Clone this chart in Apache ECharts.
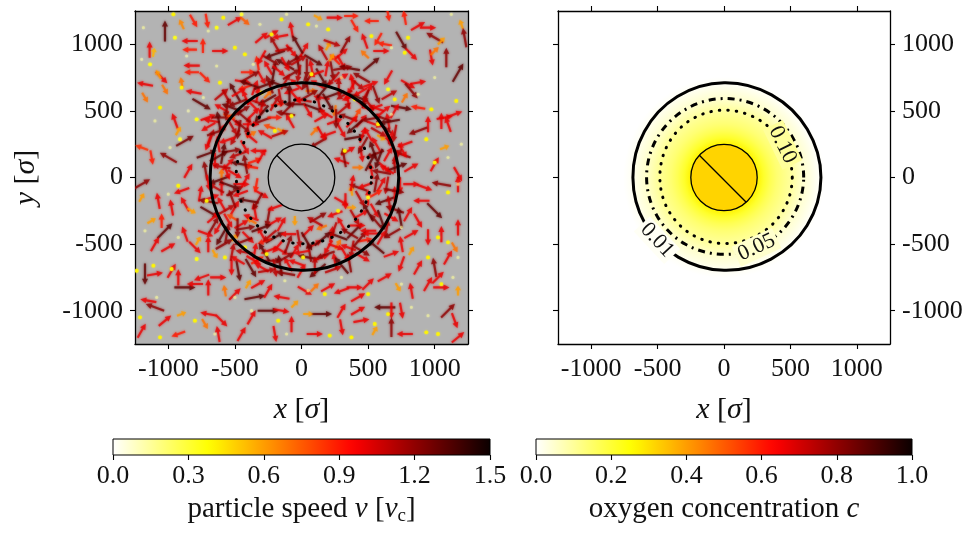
<!DOCTYPE html>
<html>
<head>
<meta charset="utf-8">
<script src="https://cdn.jsdelivr.net/npm/echarts@6/dist/echarts.min.js"></script>
<style>
  html, body { margin: 0; padding: 0; background: #fff; }
  #chart { width: 971px; height: 536px; }
</style>
</head>
<body>
<div id="chart"></div>
<script>
// ---------- axes ----------
const posTicks = [-1000, -500, 0, 500, 1000];
const posRange = [-1250, 1250];
const speedRange = [0, 1.5];
const speedStep = 0.3;
const concRange = [0, 1];
const concStep = 0.2;

// ---------- particles: [x, y, heading (deg), speed] ----------
const particlesNW = [
  [-1025,1100,90,1.3],[-1140,960,90,1.0],[-1110,940,80,0.55],[-900,1150,115,0.65],[-810,1175,-60,0.9],
  [-710,1175,-80,0.9],[-840,1025,180,1.0],[-740,990,90,0.9],[-610,950,0,1.0],[-840,960,180,0.9],
  [-500,1175,30,1.0],[-425,1175,-40,0.75],[-300,1050,40,1.0],[-225,1075,30,1.0],[-75,1110,100,1.0],
  [-200,1000,120,1.15],[-1175,700,170,1.0],[-1175,600,-60,0.7],[-1050,750,-45,1.0],[-1025,660,-60,0.7],
  [-1075,775,120,0.6],[-825,840,180,1.0],[-825,790,180,0.9],[-900,710,100,0.7],[-725,750,-45,0.9],
  [-600,625,40,1.1],[-750,550,-30,1.3],[-810,640,170,1.0],[-400,790,0,0.9],[-950,425,110,1.0],
  [-925,350,60,0.6],[-1200,225,160,0.85],[-1125,150,-80,0.9],[-1000,150,150,1.2],[-875,275,30,1.25],
  [-850,50,60,1.0],[-700,450,20,1.0],[-600,450,0,1.2],[-525,525,160,1.3],
  [-200,925,200,1.3],[-125,850,150,1.3],[-75,775,30,1.2],[-250,825,120,1.0],[-300,750,-60,1.0],
  [-175,700,160,1.3],[-75,650,200,1.0],[-250,625,45,0.7],[-375,550,135,1.0],[-450,500,30,1.2],
  [-300,525,-100,1.0],[-175,550,10,0.9],[-50,550,180,1.3],[-500,425,-45,1.0],[-400,400,80,1.0],
  [-300,425,200,1.2],[-200,450,0,0.9],[-600,350,60,1.0],[-500,300,-120,1.1],[-375,325,30,0.7],
  [-275,325,150,1.0],[-150,350,-30,0.6],[-625,250,100,1.0],[-525,200,10,1.2],[-425,225,-60,1.0],
  [-325,200,180,1.0],[-650,125,-90,1.0],[-550,100,45,1.0],[-450,100,170,1.3],[-350,125,20,0.9],
  [-600,25,90,0.7],[-500,25,-30,1.0],[-712,175,20,1.3],[-675,425,170,1.0],[-350,675,70,1.0],
  [-425,675,200,0.9],[-75,950,-50,1.0],[-25,850,100,1.3],[-87,425,120,1.0],
  [-120,720,60,1.1],[-230,880,-30,1.2],[-330,860,100,0.9],[-40,700,140,1.0],[-160,600,-80,1.1],
  [-280,690,20,1.3],[-420,600,110,1.0],[-540,460,-20,0.8],[-600,520,150,1.0],[-680,300,70,1.1],
  [-560,280,200,1.0],[-470,360,-100,1.2],[-360,480,45,1.0],[-240,380,160,0.8]
];
const particlesNE = [
  [125,1200,-30,0.6],[250,1200,0,1.0],[375,1212,0,0.9],[400,1137,-60,0.9],[525,1175,180,0.9],
  [650,1225,-80,0.9],[775,1200,100,0.9],[875,1137,30,1.0],[950,1125,0,1.0],[1000,1050,150,1.2],
  [1050,1025,45,0.6],[1200,1150,110,0.6],[1225,1050,100,1.2],[475,1025,110,1.0],[575,1037,-120,0.9],
  [625,1000,170,0.9],[750,1025,-60,1.3],[825,925,-45,1.0],[975,900,-80,1.0],[1000,950,45,0.7],
  [1087,900,90,1.2],[1175,787,60,1.3],[525,850,40,1.3],[600,950,0,1.0],[475,925,135,0.7],
  [300,862,-60,1.0],[250,887,135,0.9],[200,987,60,0.6],[650,750,-120,1.0],[800,700,-30,1.0],
  [875,712,10,1.0],[775,600,60,0.7],[825,650,-50,1.2],[750,525,-10,1.3],[875,525,170,0.9],
  [1075,450,10,1.0],[1150,475,20,1.0],[1100,400,110,1.0],[1050,425,90,1.0],[950,400,90,1.0],
  [875,350,200,1.2],[1075,225,20,0.6],[1000,100,60,1.0],[1175,25,-60,1.0],[775,250,200,1.0],
  [750,175,160,1.2],[825,75,30,1.0],[700,500,60,1.0],
  [75,825,100,1.0],[150,750,-60,1.3],[225,900,60,0.6],[300,750,30,1.0],[375,675,-120,1.0],
  [450,750,150,1.2],[500,650,60,1.0],[75,650,0,0.7],[150,600,170,1.0],[250,625,20,1.3],
  [350,575,100,1.0],[450,550,-40,1.0],[550,525,200,1.0],[50,500,-60,1.0],[150,450,30,1.0],
  [250,500,-100,0.7],[350,450,160,1.2],[450,425,50,1.0],[550,400,-20,1.0],[650,425,100,1.0],
  [100,350,45,0.7],[200,325,200,1.0],[300,350,-60,1.0],[400,300,10,1.3],[500,325,120,1.0],
  [600,300,-30,0.6],[675,300,80,1.0],[350,200,30,1.0],[450,175,-80,1.0],[550,175,200,1.2],
  [650,175,60,1.0],[300,125,160,1.0],[425,75,0,0.7],[525,50,100,1.0],[625,75,-40,1.0],
  [125,260,210,1.2],[40,720,-120,1.2],[190,820,80,1.0],[320,620,-150,1.1],[420,480,60,0.8],
  [600,450,160,1.2],[640,320,-70,1.0],[250,420,20,1.0],[130,560,100,1.1],[560,250,120,1.0],
  [700,100,90,1.1]
];
const particlesSW = [
  [-1200,-150,60,0.6],[-1075,-175,100,1.0],[-1125,-325,30,0.6],[-1050,-325,90,0.9],[-975,-225,100,1.0],
  [-875,-200,120,1.0],[-900,-100,200,1.0],[-825,-250,-30,0.6],[-1200,-50,30,1.2],[-1025,-400,45,1.3],
  [-1100,-500,60,1.0],[-1000,-525,30,1.0],[-875,-425,110,1.0],[-800,-525,-45,1.0],[-775,-475,60,0.6],
  [-700,-500,90,1.0],[-650,-575,-60,0.6],[-1175,-725,-90,1.3],[-1100,-725,10,1.0],[-975,-700,60,1.0],
  [-925,-750,90,1.0],[-875,-825,0,1.3],[-800,-800,180,1.0],[-750,-750,200,1.0],[-700,-825,90,1.0],
  [-625,-750,0,1.0],[-575,-850,100,0.7],[-525,-675,-90,1.0],[-475,-700,-80,1.3],[-400,-800,60,0.6],
  [-500,-875,45,1.0],[-350,-900,10,1.3],[-250,-850,60,1.0],[-250,-1000,0,1.3],[-150,-1000,-10,1.0],
  [-150,-900,170,1.0],[-75,-1100,90,1.0],[-50,-950,45,0.6],[-375,-1050,60,1.0],[-450,-1175,60,1.0],
  [-600,-1075,-45,1.0],[-700,-1025,170,1.0],[-725,-1100,-60,0.7],[-900,-1025,20,0.6],[-1025,-1075,40,1.0],
  [-1100,-975,160,1.2],[-1200,-1150,60,1.0],[-1150,-925,170,1.0],[-925,-1175,200,0.9],[-625,-1175,100,1.0],
  [-325,-800,30,1.0],[-200,-1175,-80,1.0],
  [-600,-75,90,1.0],[-500,-100,30,1.2],[-450,-50,0,1.0],[-600,-200,120,1.0],[-500,-225,60,1.0],
  [-400,-175,170,1.3],[-300,-125,-30,1.0],[-350,-250,100,1.0],[-550,-325,-60,1.0],[-450,-350,30,1.0],
  [-375,-325,150,0.7],[-250,-300,-100,1.2],[-200,-225,200,1.0],[-150,-350,60,1.0],[-500,-450,45,0.6],
  [-400,-450,-45,1.0],[-300,-425,120,1.0],[-200,-450,30,1.3],[-100,-425,180,1.0],[-350,-550,80,1.0],
  [-250,-550,200,1.0],[-150,-550,-30,1.0],[-50,-550,60,1.0],[-225,-625,0,1.2],[-100,-650,120,1.0],
  [-300,-675,150,1.0],[-50,-325,-90,0.6],[-675,-150,20,1.0],[-625,-375,-120,1.0],
  [-560,-420,80,1.2],[-430,-560,170,1.1],[-620,-20,200,1.3],[-330,-620,30,0.9],[-160,-660,100,1.3],
  [-520,-300,150,0.8]
];
const particlesSE = [
  [425,-75,160,1.2],[500,-150,90,1.0],[600,-50,60,1.0],[550,-250,-60,1.0],[450,-275,30,1.0],
  [375,-225,0,0.6],[625,-175,200,1.3],[675,-300,-30,1.0],[300,-350,120,1.0],[400,-400,45,1.3],
  [500,-400,180,1.0],[600,-450,60,1.0],[100,-500,30,1.0],[200,-525,-120,1.0],[275,-500,60,0.7],
  [350,-525,160,1.0],[450,-550,-30,1.2],[50,-600,170,1.3],[150,-600,20,1.0],[250,-625,100,1.0],
  [50,-400,45,1.0],[150,-375,200,0.7],[225,-425,80,1.0],[250,-275,200,1.0],[125,-300,30,1.2],
  [700,-125,90,1.0],[375,-100,100,0.6],[560,-330,130,1.2],[330,-180,-90,1.0],[480,-470,10,0.9],
  [640,-60,-100,1.1],[270,-440,160,1.3],
  [825,-50,0,1.0],[925,-75,-20,1.0],[1050,-50,170,1.2],[1175,-50,90,1.0],[900,-175,180,1.0],
  [1000,-250,-45,1.3],[800,-275,60,1.0],[875,-325,-60,1.0],[825,-425,30,1.0],[750,-500,100,1.0],
  [825,-550,60,0.6],[950,-450,-90,1.0],[1050,-425,90,1.0],[1175,-375,90,1.0],[1150,-525,-60,0.7],
  [1100,-600,60,1.0],[1000,-675,100,1.2],[875,-675,60,1.0],[750,-650,-110,1.0],[675,-575,20,1.0],
  [625,-750,30,1.0],[500,-800,45,1.0],[400,-825,0,1.0],[300,-850,200,1.0],[200,-825,30,1.0],
  [100,-825,45,0.7],[25,-850,-30,1.0],[725,-825,-60,0.6],[825,-850,100,1.0],[950,-800,60,1.0],
  [1050,-825,0,1.0],[1175,-850,90,0.6],[150,-1025,0,1.3],[50,-1025,0,0.6],[300,-1000,60,1.0],
  [425,-1000,30,1.0],[625,-975,180,1.3],[675,-1000,-90,1.0],[750,-1000,-80,1.0],[450,-1075,10,1.0],
  [300,-1125,-80,1.0],[100,-1175,0,1.0],[550,-1150,60,0.6],[675,-1125,90,1.2],[775,-1175,180,1.0],
  [1100,-1000,45,1.2],[1150,-1075,-70,1.0],[1175,-1200,40,1.0],[1025,-750,45,1.0],[425,-900,30,1.0]
];
// crowded band around the colloid
const particlesRing = [
  [-380,760,30,1.2],[-300,900,-120,1.0],[-210,780,80,1.3],[-130,960,10,1.1],[-60,880,-150,1.2],
  [20,960,60,1.0],[90,880,-30,1.3],[160,940,120,1.1],[230,800,-80,1.2],[300,930,40,1.0],
  [360,820,170,1.3],[420,700,-40,1.1],[-440,720,-10,1.0],[-500,640,120,1.3],[-20,780,-100,1.1],
  [60,620,30,1.2],[120,700,150,1.0],[200,560,-60,1.3],[280,680,90,1.1],[360,600,200,1.0],
  [-100,520,45,1.2],[-260,580,-150,1.3],[-330,620,80,1.0],[10,580,170,1.1],[480,590,-110,1.2],
  [520,700,20,1.0],[-560,600,-60,1.1],[-620,420,100,1.3],[-480,560,200,1.2],[-120,850,-60,1.0],
  [-30,1000,120,1.3],[230,1010,-20,1.1],[330,1000,60,1.2],[-160,1060,190,1.0],
  [-720,50,100,1.2],[-760,-120,80,1.0],[-690,-260,-30,1.3],[-640,-80,150,1.1],[-560,40,-70,1.0],
  [-520,-160,110,1.2],[-700,260,-110,1.0],[-620,160,30,1.3],[-480,170,200,1.1],[-420,-20,60,1.0],
  [-440,380,-40,1.2],[-380,300,140,1.0],[-340,-60,-100,0.9],[-660,-360,60,1.2],[-720,-420,-20,1.0],
  [-580,-500,30,1.2],[-480,-620,150,1.0],[-380,-680,-60,1.3],[-260,-700,10,1.1],[-120,-720,170,1.2],
  [0,-700,60,1.0],[120,-700,-140,1.3],[240,-690,20,1.1],[360,-640,100,1.2],[460,-600,-30,1.0],
  [560,-520,140,1.3],[-20,-460,-80,1.1],[-280,-480,200,0.9],[60,-560,100,1.2],[330,-580,-60,1.0],
  [-420,-380,10,1.2],[-180,-520,-130,1.0],
  [640,-380,80,1.1],[700,-240,160,1.2],[740,-60,-90,1.0],[720,80,20,1.3],[680,240,120,1.1],
  [620,380,-40,1.2],[560,520,160,1.0],[520,120,60,1.3],[480,-60,200,1.0],[400,-300,-60,1.1],
  [560,-120,30,0.9],[460,240,-120,1.2],[380,420,45,1.0],[600,40,170,1.2],[760,200,-60,1.0],
  [740,-300,100,1.3],[660,620,30,1.1],[440,640,-150,1.0],
  [-300,160,60,1.0],[-330,-180,-120,1.2],[-200,-330,30,1.0],[100,-330,150,1.1],[300,-180,-30,1.0],
  [320,150,100,1.2],[150,330,-60,1.0],[-160,330,20,1.1],[-380,80,170,0.9],[380,-40,80,1.0]
];
const particlesRingInner = [
  [-560,520,-100,1.2],[-470,640,30,1.0],[-390,700,160,1.3],[-320,560,-20,1.1],[-240,700,110,1.2],
  [-170,800,-40,1.0],[-90,620,90,1.3],[-20,880,30,1.1],[40,820,-90,1.2],[110,780,200,1.0],
  [170,660,50,1.3],[240,740,-130,1.1],[310,820,10,1.2],[380,720,100,1.0],[430,600,-20,1.3],
  [500,560,130,1.1],[560,620,-70,1.2],[620,500,40,1.0],[660,420,190,1.3],[700,330,-100,1.1],
  [-640,340,20,1.2],[-700,380,-150,1.0],[-590,180,80,1.3],[-520,380,-60,1.1],[-440,460,140,1.2],
  [-380,400,0,1.0],[-300,480,-130,1.3],[-200,560,60,1.1],[-120,480,170,1.2],[-40,600,-50,1.0],
  [40,700,100,1.2],[100,520,-20,1.3],[180,480,150,1.0],[260,440,-90,1.2],[320,520,40,1.1],
  [400,380,-140,1.3],[460,320,70,1.0],[520,440,190,1.2],[580,340,-30,1.1],[540,200,110,1.3],
  [-700,-180,170,1.2],[-660,-300,40,1.0],[-600,-440,-120,1.3],[-520,-560,80,1.1],[-440,-480,200,1.2],
  [-360,-620,-30,1.0],[-280,-560,120,1.3],[-200,-680,-80,1.1],[-120,-600,30,1.2],[-40,-640,160,1.0],
  [40,-480,-60,1.3],[100,-660,90,1.1],[180,-580,200,1.2],[260,-520,-20,1.0],[300,-660,130,1.3],
  [380,-540,-100,1.1],[440,-460,50,1.2],[520,-420,180,1.0],[600,-320,-70,1.3],[660,-200,100,1.1],
  [700,-100,-10,1.2],[640,60,150,1.0],[580,140,-110,1.3],[720,160,60,1.1],[680,-420,-150,1.2],
  [-560,-240,30,1.1],[-480,-380,-90,1.2],[-380,-300,160,1.0],[-300,-380,20,1.3],[-240,-440,-140,1.1],
  [-100,-500,70,1.2],[0,-560,-170,1.0],[160,-460,40,1.3],[240,-400,-110,1.1],[360,-420,150,1.2],
  [420,-360,0,1.0],[500,-260,120,1.3],[440,-160,-60,1.1],[560,-40,80,1.2],[-460,-120,-160,1.0],
  [-420,100,100,1.2],[-540,-60,-20,1.3],[-600,80,170,1.1],[-700,-40,-80,1.0]
];
// slow particles: [x, y, speed]
const slowParticles = [
  [-962,1225,0.4],[-950,1050,0.35],[-425,925,0.4],[-450,1225,0.3],[-587,1200,0.4],[-1137,850,0.35],
  [-900,675,0.4],[-787,437,0.35],[-1062,525,0.4],[-912,287,0.3],[-987,225,0.15],[-612,712,0.4],
  [-737,600,0.15],[-225,1075,0.4],[-312,1150,0.15],[-637,1125,0.35],[-700,1100,0.15],[-500,975,0.4],
  [-200,350,0.4],[-75,462,0.4],[-300,637,0.4],[-1187,1125,0.15],[-1200,887,0.12],[-1100,425,0.15],
  [-850,500,0.12],[-637,837,0.15],[-862,912,0.12],[-362,850,0.15],[-150,1187,0.4],[-112,1225,0.15],
  [50,1150,0.4],[200,1112,0.4],[112,1137,0.15],[675,975,0.15],[525,1062,0.4],[800,1050,0.4],
  [775,937,0.4],[975,512,0.4],[700,587,0.4],[675,475,0.15],[937,287,0.4],[1000,112,0.4],
  [1162,575,0.4],[1200,250,0.15],[1100,150,0.15],[325,200,0.4],[300,750,0.15],[400,587,0.4],
  [650,662,0.35],[75,775,0.4],[1000,750,0.15],[575,400,0.4],[875,625,0.15],[1125,1225,0.15],
  [-925,-62,0.4],[-1112,-662,0.4],[-975,-687,0.4],[-925,-450,0.15],[-787,-612,0.35],[-575,-600,0.4],
  [-1175,-400,0.15],[-1212,-1050,0.4],[-1087,-900,0.15],[-800,-1075,0.4],[-500,-900,0.15],
  [-262,-575,0.4],[-375,-1000,0.15],[-112,-1175,0.15],[-175,-1075,0.4],[-1062,-1200,0.4],
  [-650,-1175,0.15],[-1237,-700,0.4],[-1000,-125,0.15],[-712,-175,0.4],[-425,-525,0.4],[-125,-775,0.15],
  [1025,-450,0.4],[950,-600,0.4],[1175,-600,0.15],[1100,-487,0.4],[1050,-800,0.4],[1137,-750,0.15],
  [750,-800,0.15],[500,-875,0.4],[175,-875,0.4],[300,-750,0.15],[937,-1162,0.4],[950,-1037,0.15],
  [1025,-1175,0.4],[212,-1187,0.4],[550,-1100,0.4],[825,-975,0.15],[650,-1025,0.4],[12,-600,0.4],
  [275,-250,0.4],[500,-150,0.35],[1175,-50,0.15],[1100,-112,0.4],[750,-375,0.15],[50,-850,0.15],
  [375,-1200,0.4]
];

// ---------- contours: radius at each polar angle ----------
const contourAngles = [0, 30, 60, 90, 120, 150, 180, 210, 240, 270, 300, 330];
const contour001R = [730, 724, 716, 711, 702, 692, 686, 688, 690, 697, 708, 722];
const contour005R = [600, 598, 596, 593, 588, 585, 583, 581, 579, 577, 584, 594];
const contour010R = [514, 510, 507, 506, 500, 490, 483, 486, 492, 496, 502, 510];
const leftDottedR = [525, 522, 545, 585, 560, 505, 490, 488, 492, 498, 505, 515];
const contourLevels = ['0.01', '0.05', '0.10'];
const contourLabelAngles = [223, 295, 29];
const contourLabelR = [690, 579, 505];
const contourLabelRot = [-47, 25, -64];

// ---------- concentration profile around the colloid ----------
const profileR = [250, 300, 350, 400, 450, 500, 590, 650, 705, 760];
const profileC = [0.27, 0.21, 0.17, 0.14, 0.12, 0.10, 0.05, 0.03, 0.01, 0.0];

// ---------- colloid ----------
const colloidRadius = 250;
const colloidCapAngles = [138, -48];

// ---------- styling ----------
const FONT = 'Liberation Serif';
const INK = '#111';
const PANEL_GREY = '#b3b3b3';
const ARROW_LEN = 122;     // data units per unit speed
const SLOW_LIMIT = 0.5;

// matplotlib "hot_r"
function hotR(t) {
  const s = 1 - Math.max(0, Math.min(1, t));
  const r = s < 0.365079 ? 0.0416 + (1 - 0.0416) * s / 0.365079 : 1;
  const g = Math.max(0, Math.min(1, (s - 0.365079) / (0.746032 - 0.365079)));
  const b = Math.max(0, Math.min(1, (s - 0.746032) / (1 - 0.746032)));
  return 'rgb(' + Math.round(r * 255) + ',' + Math.round(g * 255) + ',' + Math.round(b * 255) + ')';
}
const hotSamples = [];
for (let i = 0; i <= 40; i++) hotSamples.push(hotR(i / 40));
const hotStops = hotSamples.map((c, i) => ({ offset: i / 40, color: c }));

const allParticles = particlesNW.concat(particlesNE, particlesSW, particlesSE, particlesRing,
  particlesRingInner, slowParticles.map(p => [p[0], p[1], 90, p[2]]));

// ---------- render helpers ----------
function renderArrow(params, api) {
  const x = api.value(0), y = api.value(1), a = api.value(2) * Math.PI / 180, v = api.value(3);
  const color = api.visual('color');
  const c = api.coord([x, y]);
  if (v < SLOW_LIMIT) {
    return { type: 'circle', shape: { cx: c[0], cy: c[1], r: v < 0.2 ? 1.6 : 1.9 },
      style: { fill: color, opacity: v < 0.2 ? 0.45 : 0.85, shadowBlur: 2, shadowColor: color } };
  }
  const half = ARROW_LEN * v / 2;
  const p0 = api.coord([x - Math.cos(a) * half, y - Math.sin(a) * half]);
  const p1 = api.coord([x + Math.cos(a) * half, y + Math.sin(a) * half]);
  const dx = p1[0] - p0[0], dy = p1[1] - p0[1];
  const len = Math.hypot(dx, dy);
  const ux = dx / len, uy = dy / len, nx = -uy, ny = ux;
  const hl = Math.min(6, len * 0.45), hw = 3.0, sw = 1.05;
  const bx = p1[0] - ux * hl, by = p1[1] - uy * hl;
  const pts = [
    [p0[0] + nx * sw, p0[1] + ny * sw], [bx + nx * sw, by + ny * sw], [bx + nx * hw, by + ny * hw],
    [p1[0], p1[1]],
    [bx - nx * hw, by - ny * hw], [bx - nx * sw, by - ny * sw], [p0[0] - nx * sw, p0[1] - ny * sw]
  ];
  return { type: 'polygon', shape: { points: pts },
    style: { fill: color, opacity: 0.72, shadowBlur: 2.5, shadowColor: color } };
}

function contourSeries(radii, axisIndex, lineStyle) {
  return {
    type: 'custom', xAxisIndex: axisIndex, yAxisIndex: axisIndex, clip: true, silent: true, z: 5,
    data: [[0, 0]],
    renderItem: function (params, api) {
      const pts = contourAngles.map((deg, i) => {
        const t = deg * Math.PI / 180;
        return api.coord([radii[i] * Math.cos(t), radii[i] * Math.sin(t)]);
      });
      return { type: 'polygon', shape: { points: pts, smooth: 0.35 },
        style: Object.assign({ fill: 'none', stroke: '#000' }, lineStyle) };
    }
  };
}

function colloidSeries(axisIndex, fill) {
  return {
    type: 'custom', xAxisIndex: axisIndex, yAxisIndex: axisIndex, silent: true, z: 6,
    data: [[0, 0, colloidRadius]],
    renderItem: function (params, api) {
      const c = api.coord([api.value(0), api.value(1)]);
      const r = api.size([api.value(2), 0])[0];
      const a0 = colloidCapAngles[0] * Math.PI / 180, a1 = colloidCapAngles[1] * Math.PI / 180;
      return { type: 'group', children: [
        { type: 'circle', shape: { cx: c[0], cy: c[1], r: r }, style: { fill: fill, stroke: '#000', lineWidth: 1.3 } },
        { type: 'line', shape: { x1: c[0] + r * Math.cos(a0), y1: c[1] - r * Math.sin(a0),
                                 x2: c[0] + r * Math.cos(a1), y2: c[1] - r * Math.sin(a1) },
          style: { stroke: '#000', lineWidth: 1.3 } }
      ] };
    }
  };
}

function colorbarSeries(axisIndex, range) {
  return {
    type: 'custom', xAxisIndex: axisIndex, yAxisIndex: axisIndex, silent: true,
    data: [[range[0], range[1]]],
    renderItem: function (params, api) {
      const a = api.coord([api.value(0), 1]);
      const b = api.coord([api.value(1), 0]);
      return { type: 'rect', shape: { x: a[0], y: a[1], width: b[0] - a[0], height: b[1] - a[1] },
        style: { fill: new echarts.graphic.LinearGradient(0, 0, 1, 0, hotStops), stroke: '#000', lineWidth: 1 } };
    }
  };
}

// ---------- axes ----------
const labelStyle = { fontFamily: FONT, fontSize: 26, color: INK };
const lineStyle = { color: '#000', width: 1.3 };
const nameStyle = { fontFamily: FONT, fontSize: 30, color: INK,
  rich: { it: { fontFamily: FONT, fontSize: 30, fontStyle: 'italic', color: INK } } };

function posAxis(gridIndex, position, withLabels, extra) {
  return Object.assign({
    type: 'value', gridIndex: gridIndex, position: position, min: posRange[0], max: posRange[1],
    axisLine: { show: true, onZero: false, lineStyle: lineStyle },
    axisTick: { show: true, inside: false, length: 5, customValues: posTicks, lineStyle: { color: '#000', width: 1.1 } },
    axisLabel: Object.assign({ show: withLabels, customValues: posTicks, margin: 12,
      formatter: v => String(v) }, labelStyle),
    splitLine: { show: false }
  }, extra || {});
}

const xName = { name: '{it|x} [{it|σ}]', nameLocation: 'middle', nameGap: 51, nameTextStyle: nameStyle };

function barAxis(gridIndex, range, step, name) {
  return {
    type: 'value', gridIndex: gridIndex, position: 'bottom', min: range[0], max: range[1], interval: step,
    axisLine: { show: false },
    axisTick: { show: true, inside: false, length: 5, lineStyle: { color: '#000', width: 1.1 } },
    axisLabel: Object.assign({ margin: 8, formatter: v => v.toFixed(1) }, labelStyle),
    splitLine: { show: false },
    name: name, nameLocation: 'middle', nameGap: 37,
    nameTextStyle: { fontFamily: FONT, fontSize: 29, color: INK,
      rich: {
        it: { fontFamily: FONT, fontSize: 29, fontStyle: 'italic', color: INK, lineHeight: 34 },
        sub: { fontFamily: FONT, fontSize: 19, color: INK, lineHeight: 19, verticalAlign: 'bottom' },
        n: { fontFamily: FONT, fontSize: 29, color: INK, lineHeight: 34 }
      } }
  };
}

const option = {
  backgroundColor: '#fff',
  animation: false,
  grid: [
    { left: 135, top: 11, width: 333, height: 333, show: true, backgroundColor: PANEL_GREY, borderWidth: 0 },
    { left: 558, top: 11, width: 332, height: 333, show: false },
    { left: 113, top: 439, width: 377, height: 16, show: false },
    { left: 536, top: 439, width: 376, height: 16, show: false }
  ],
  visualMap: [{
    type: 'continuous', show: false, seriesIndex: 0, dimension: 3,
    min: speedRange[0], max: speedRange[1], inRange: { color: hotSamples }
  }],
  xAxis: [
    posAxis(0, 'bottom', true, xName),
    posAxis(0, 'top', false),
    posAxis(1, 'bottom', true, xName),
    posAxis(1, 'top', false),
    barAxis(2, speedRange, speedStep, '{n|particle speed }{it|v}{n| [}{it|v}{sub|c}{n|]}'),
    barAxis(3, concRange, concStep, '{n|oxygen concentration }{it|c}')
  ],
  yAxis: [
    posAxis(0, 'left', true, { name: '{it|y} [{it|σ}]', nameLocation: 'middle', nameGap: 94, nameRotate: 90, nameTextStyle: nameStyle }),
    posAxis(0, 'right', false),
    posAxis(1, 'left', false),
    posAxis(1, 'right', true),
    { type: 'value', gridIndex: 2, min: 0, max: 1, show: false },
    { type: 'value', gridIndex: 3, min: 0, max: 1, show: false }
  ],
  series: [
    // particle velocities (left panel)
    { type: 'custom', xAxisIndex: 0, yAxisIndex: 0, clip: true, silent: true, z: 3,
      data: allParticles, encode: { x: 0, y: 1 }, renderItem: renderArrow },
    contourSeries(contour001R, 0, { lineWidth: 3 }),
    contourSeries(leftDottedR, 0, { lineWidth: 3, lineDash: [0.5, 9.5], lineCap: 'round' }),
    colloidSeries(0, PANEL_GREY),
    // concentration field (right panel)
    { type: 'custom', xAxisIndex: 2, yAxisIndex: 2, clip: true, silent: true, z: 2,
      data: [[0, 0, profileR[profileR.length - 1]]],
      renderItem: function (params, api) {
        const c = api.coord([0, 0]);
        const R = api.value(2);
        const r = api.size([R, 0])[0];
        const stops = [{ offset: 0, color: hotR(profileC[0]) }].concat(
          profileR.map((rr, i) => ({ offset: rr / R, color: hotR(profileC[i]) })));
        return { type: 'circle', shape: { cx: c[0], cy: c[1], r: r },
          style: { fill: new echarts.graphic.RadialGradient(0.5, 0.5, 0.5, stops) } };
      } },
    contourSeries(contour001R, 2, { lineWidth: 3 }),
    contourSeries(contour005R, 2, { lineWidth: 3, lineDash: [7, 5, 2, 5] }),
    contourSeries(contour010R, 2, { lineWidth: 3, lineDash: [0.5, 8], lineCap: 'round' }),
    // inline contour labels
    { type: 'custom', xAxisIndex: 2, yAxisIndex: 2, silent: true, z: 7,
      data: contourLevels.map((lv, i) => [contourLabelR[i], contourLabelAngles[i], contourLabelRot[i], i]),
      renderItem: function (params, api) {
        const i = api.value(3);
        const t = api.value(1) * Math.PI / 180;
        const p = api.coord([api.value(0) * Math.cos(t), api.value(0) * Math.sin(t)]);
        return { type: 'text', x: p[0], y: p[1], rotation: api.value(2) * Math.PI / 180,
          style: { text: contourLevels[i], fontFamily: FONT, fontSize: 22, fill: INK,
            align: 'center', verticalAlign: 'middle',
            backgroundColor: hotR(parseFloat(contourLevels[i])), padding: [0, 3] } };
      } },
    colloidSeries(2, '#ffd400'),
    // colour bars
    colorbarSeries(4, speedRange),
    colorbarSeries(5, concRange)
  ]
};

const chart = echarts.init(document.getElementById('chart'), null, { renderer: 'canvas' });
chart.setOption(option);
</script>
</body>
</html>
